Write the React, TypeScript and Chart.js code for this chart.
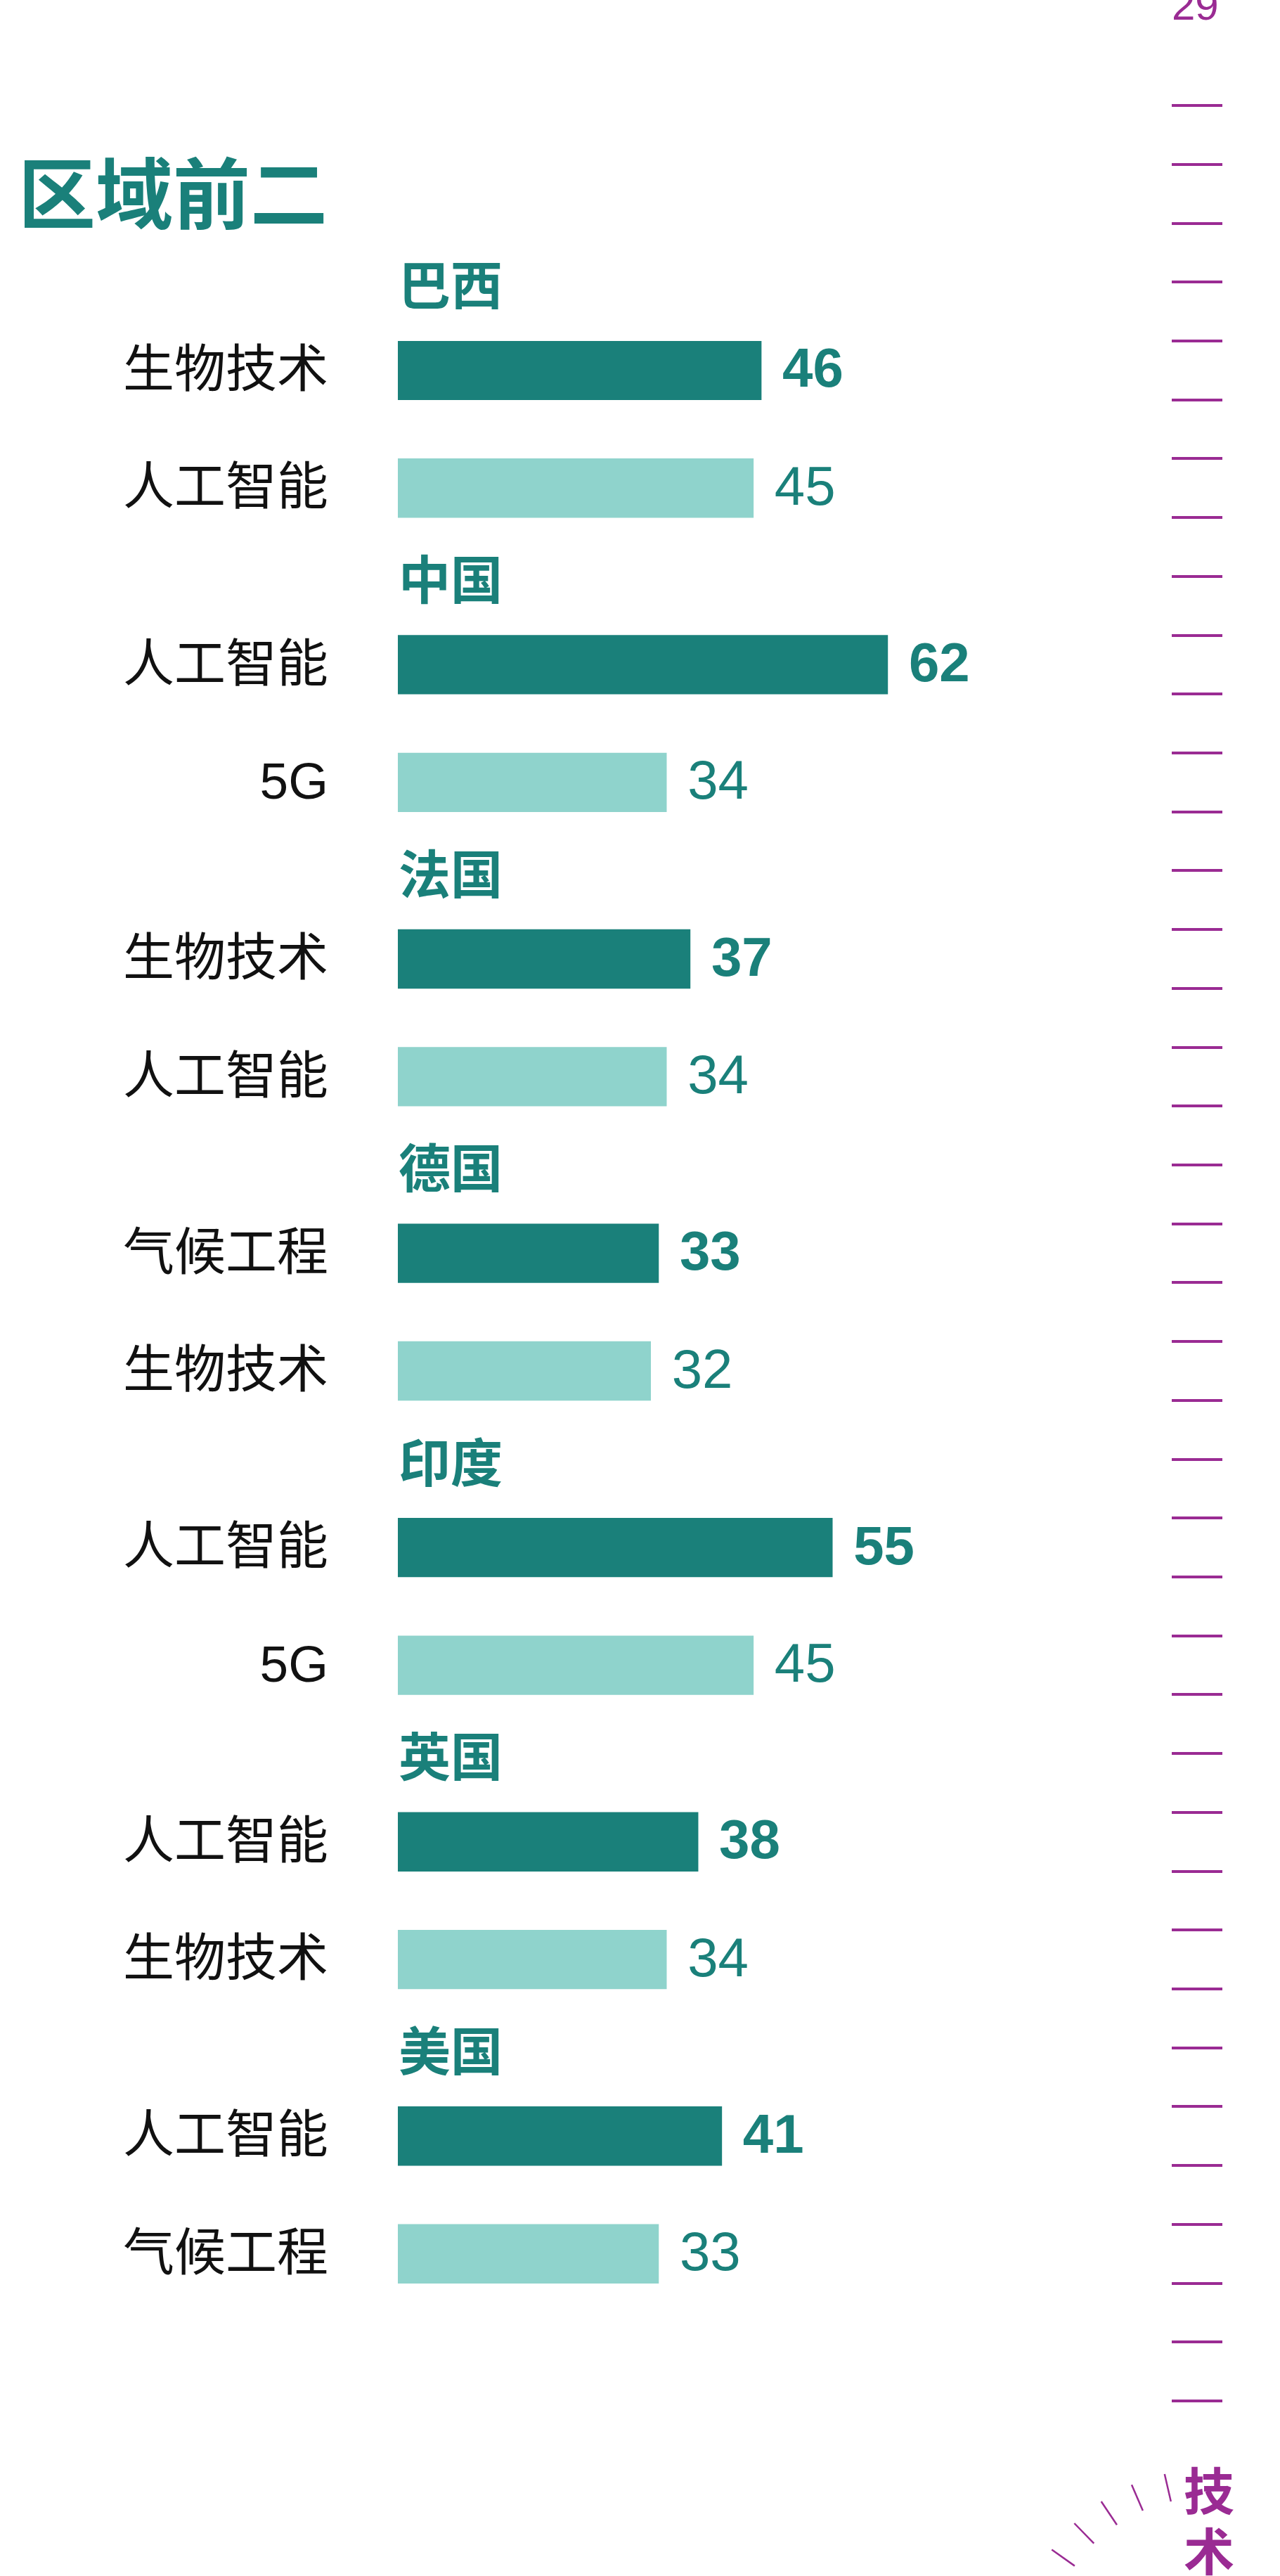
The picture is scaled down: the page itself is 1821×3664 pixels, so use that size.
import React, { useEffect, useRef } from 'react';
import { Chart, registerables } from 'chart.js';

Chart.register(...registerables);

// ---- data ----
const title = '区域前二';
const countries = ['巴西', '中国', '法国', '德国', '印度', '英国', '美国'];
const topTech = ['生物技术', '人工智能', '生物技术', '气候工程', '人工智能', '人工智能', '人工智能'];
const topValue = [46, 62, 37, 33, 55, 38, 41];
const secondTech = ['人工智能', '5G', '人工智能', '生物技术', '5G', '生物技术', '气候工程'];
const secondValue = [45, 34, 34, 32, 45, 34, 33];
const pageNumber = '29';
const sectionLabel = ['技', '术'];

// ---- styles ----
const DARK = '#1A807A';
const LIGHT = '#8FD3CC';
const TEAL_TEXT = '#1A807A';
const PURPLE = '#9A2B93';
const FONT = '"Liberation Sans", "Noto Sans CJK SC", sans-serif';
const SLOTS = 5; // rows per country group: top bar, gap, second bar, gap, gap

const slotLabels: string[] = [];
const slotValues: (number | null)[] = [];
const slotColors: string[] = [];
countries.forEach((_, g) => {
  slotLabels.push(topTech[g], '', secondTech[g], '', '');
  slotValues.push(topValue[g], null, secondValue[g], null, null);
  slotColors.push(DARK, DARK, LIGHT, LIGHT, LIGHT);
});

const decorPlugin = {
  id: 'decor',
  afterDatasetsDraw(chart: any) {
    const ctx: CanvasRenderingContext2D = chart.ctx;
    const xs = chart.scales.x;
    const ys = chart.scales.y;
    const area = chart.chartArea;
    const slotH = (area.bottom - area.top) / slotLabels.length;
    ctx.save();

    // title
    ctx.fillStyle = TEAL_TEXT;
    ctx.font = `bold 110px ${FONT}`;
    ctx.textAlign = 'left';
    ctx.textBaseline = 'middle';
    ctx.fillText(title, 26, 287);

    countries.forEach((c, g) => {
      const i1 = g * SLOTS;
      const i2 = g * SLOTS + 2;
      const y1 = ys.getPixelForValue(i1);
      const y2 = ys.getPixelForValue(i2);
      const x0 = xs.getPixelForValue(0);

      // country header
      ctx.fillStyle = TEAL_TEXT;
      ctx.font = `bold 74px ${FONT}`;
      ctx.textAlign = 'left';
      ctx.textBaseline = 'middle';
      ctx.fillText(c, x0 + 1, y1 - slotH / 2 - 72);

      // category labels
      ctx.fillStyle = '#111111';
      ctx.font = `73px ${FONT}`;
      ctx.textAlign = 'right';
      ctx.fillText(topTech[g], x0 - 99, y1 + 3);
      ctx.fillText(secondTech[g], x0 - 99, y2 + 3);

      // value labels
      ctx.fillStyle = TEAL_TEXT;
      ctx.textAlign = 'left';
      ctx.font = `bold 78px ${FONT}`;
      ctx.fillText(String(topValue[g]), xs.getPixelForValue(topValue[g]) + 30, y1 + 2);
      ctx.font = `78px ${FONT}`;
      ctx.fillText(String(secondValue[g]), xs.getPixelForValue(secondValue[g]) + 30, y2 + 2);
    });

    // ruler on the right
    ctx.fillStyle = PURPLE;
    for (let k = -4; k <= slotLabels.length; k++) {
      const y = area.top + k * slotH;
      ctx.fillRect(1667, Math.round(y) - 2, 72, 4);
    }

    // page number
    ctx.font = `60px ${FONT}`;
    ctx.textAlign = 'left';
    ctx.textBaseline = 'alphabetic';
    ctx.fillText(pageNumber, 1667, 28);

    // section label (vertical)
    ctx.font = `bold 72px ${FONT}`;
    ctx.textAlign = 'center';
    ctx.textBaseline = 'middle';
    ctx.fillText(sectionLabel[0], 1720, 3550);
    ctx.fillText(sectionLabel[1], 1720, 3636);

    // dial ticks
    ctx.strokeStyle = PURPLE;
    ctx.lineWidth = 2.5;
    const cx = 1718, cy = 3784;
    for (let i = 0; i < 6; i++) {
      const a = ((13 + 10.4 * i) * Math.PI) / 180;
      const sx = -Math.sin(a), sy = -Math.cos(a);
      ctx.beginPath();
      ctx.moveTo(cx + sx * 232, cy + sy * 232);
      ctx.lineTo(cx + sx * 272, cy + sy * 272);
      ctx.stroke();
    }

    ctx.restore();
  },
};

export default function App() {
  const ref = useRef<HTMLCanvasElement | null>(null);
  useEffect(() => {
    if (!ref.current) return;
    const chart = new Chart(ref.current, {
      type: 'bar',
      data: {
        labels: slotLabels,
        datasets: [
          {
            data: slotValues,
            backgroundColor: slotColors,
            borderWidth: 0,
            barPercentage: 1,
            categoryPercentage: 1,
          },
        ],
      },
      options: {
        indexAxis: 'y',
        responsive: false,
        animation: false,
        devicePixelRatio: 1,
        layout: { padding: { left: 566, right: 131, top: 485, bottom: 249 } },
        plugins: { legend: { display: false }, tooltip: { enabled: false } },
        scales: {
          x: { display: false, min: 0, max: 100 },
          y: { display: false },
        },
      },
      plugins: [decorPlugin],
    });
    return () => chart.destroy();
  }, []);
  return (
    <div style={{ position: 'absolute', left: 0, top: 0, width: 1821, height: 3664, background: '#ffffff' }}>
      <canvas ref={ref} width={1821} height={3664} />
    </div>
  );
}
